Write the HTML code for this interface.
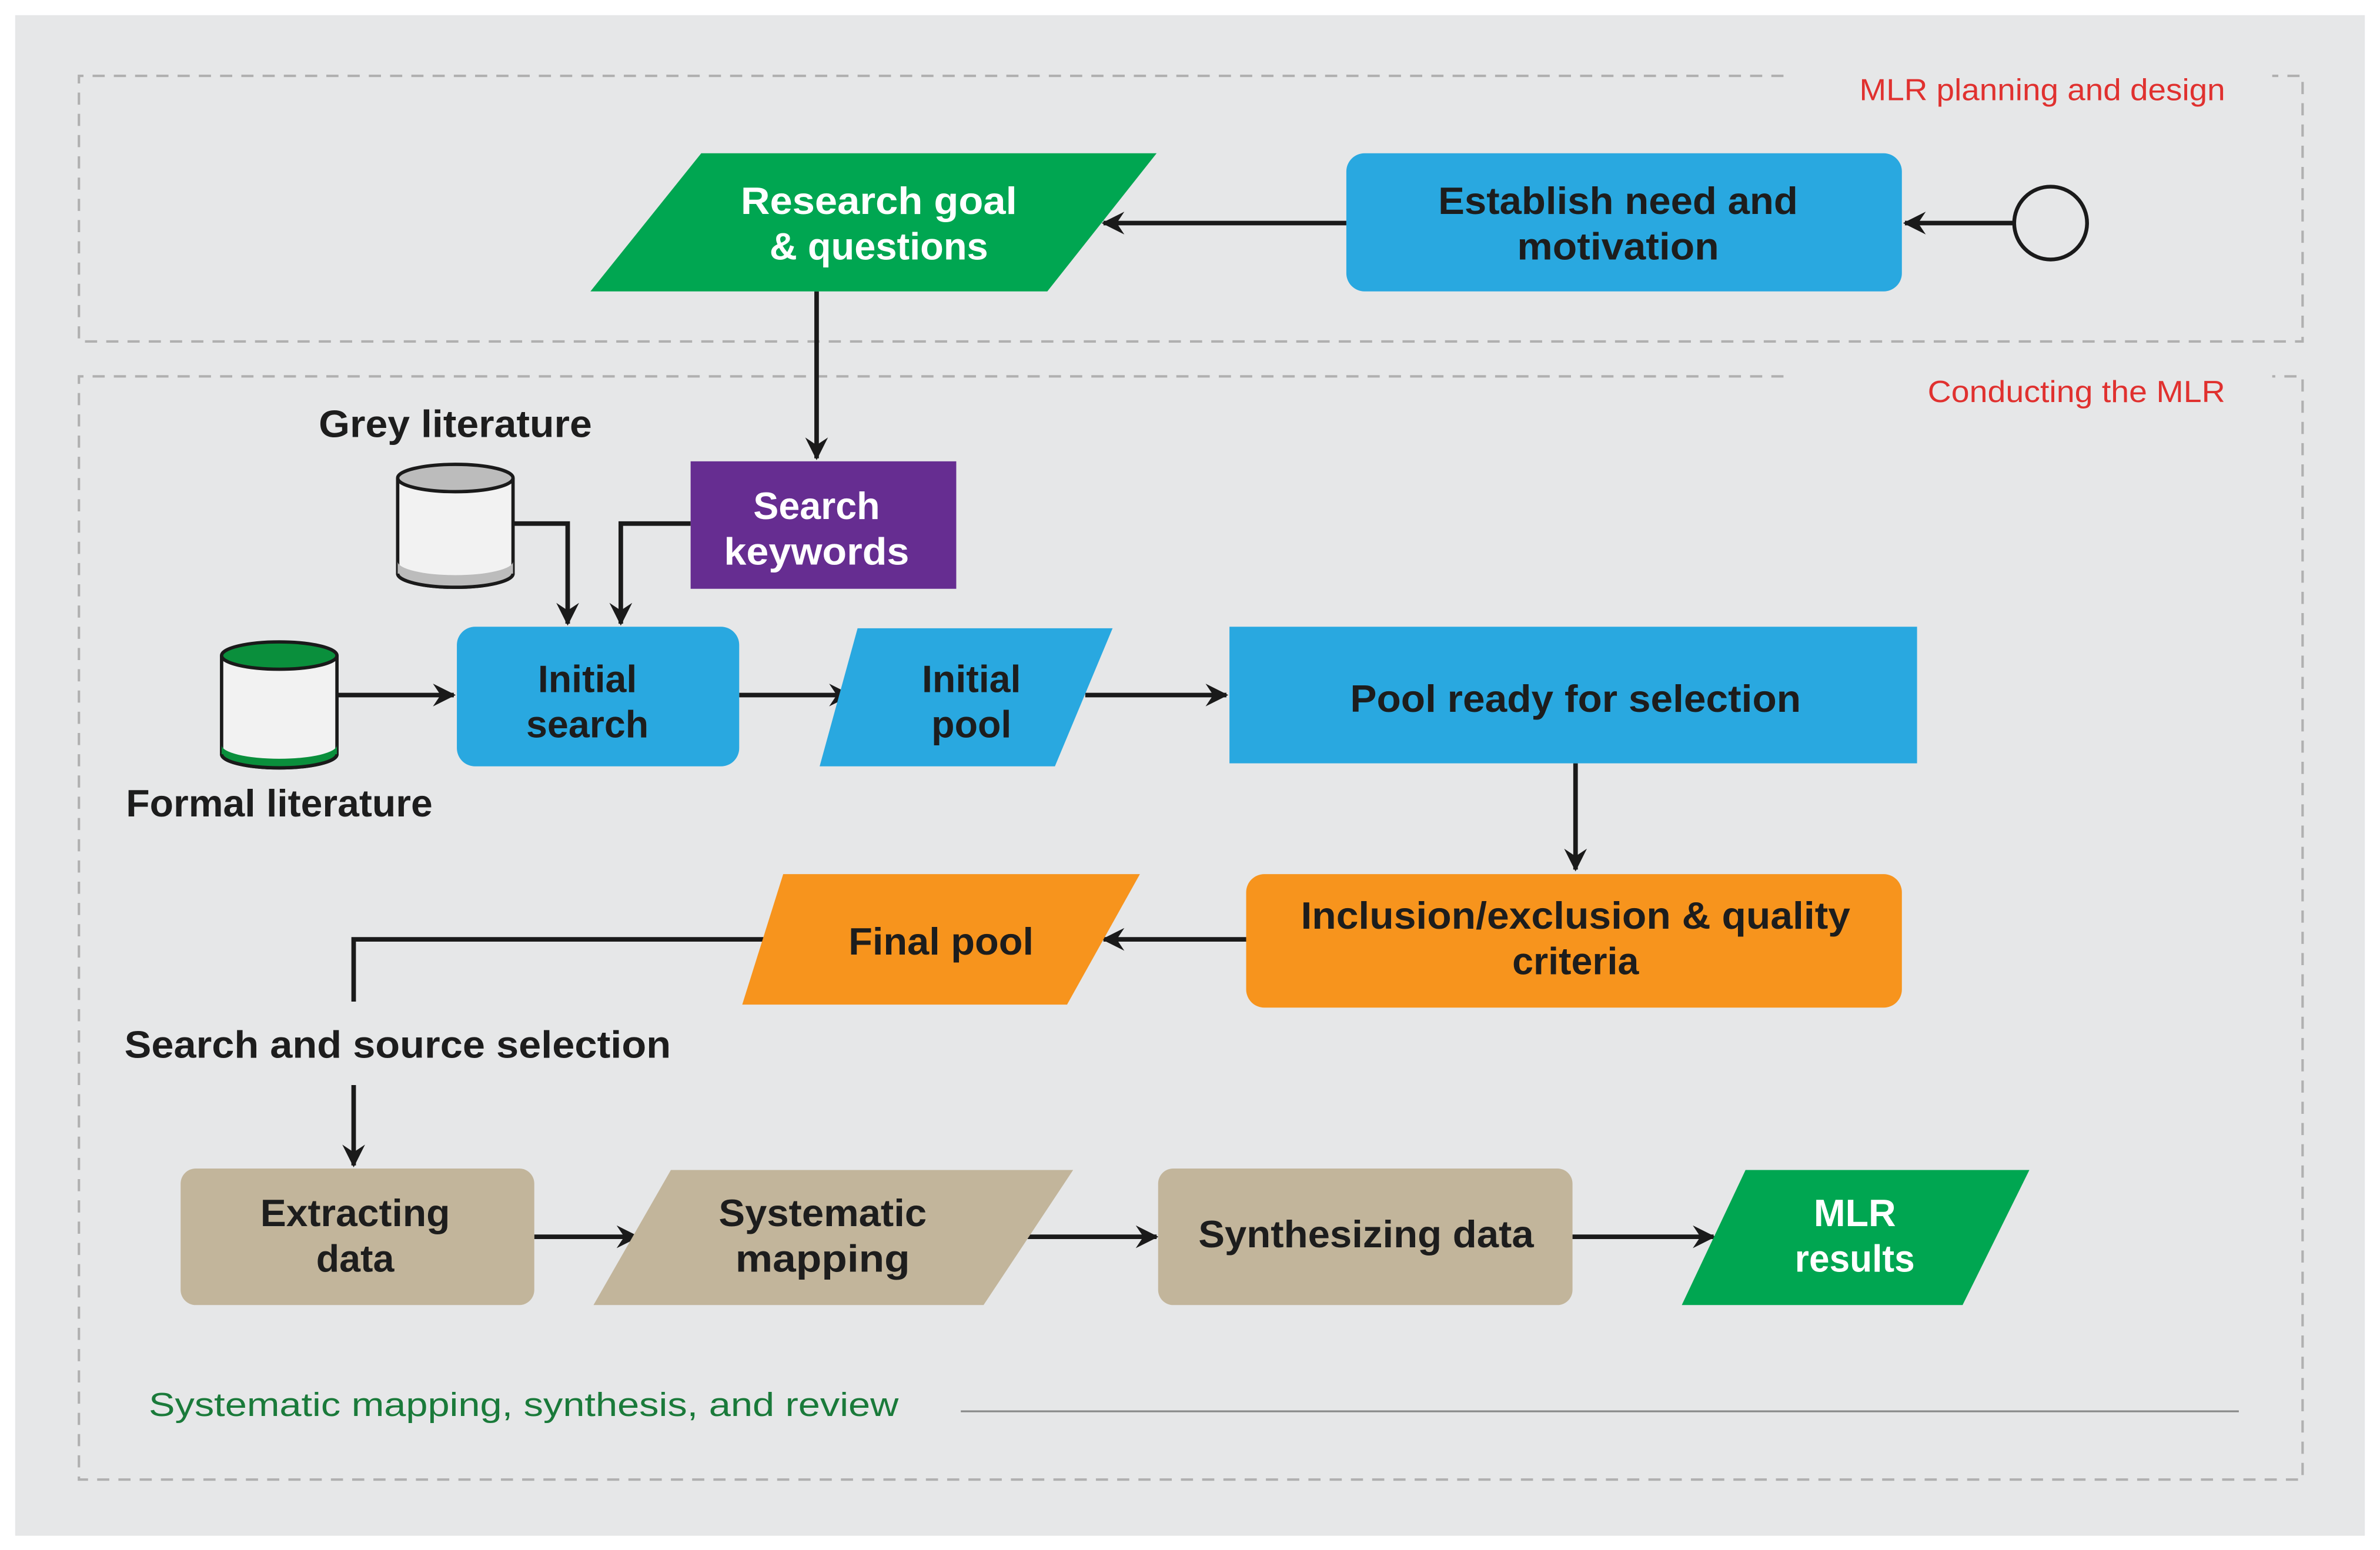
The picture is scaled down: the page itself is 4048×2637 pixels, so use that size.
<!DOCTYPE html>
<html><head><meta charset="utf-8"><style>html,body{margin:0;padding:0;background:#fff}svg{display:block}</style></head>
<body>
<svg width="4048" height="2637" viewBox="0 0 1568 1021.4" preserveAspectRatio="none" xmlns="http://www.w3.org/2000/svg" font-family="Liberation Sans, DejaVu Sans, sans-serif">
<defs>
<marker id="a" viewBox="0 0 12 12" refX="11" refY="6" markerWidth="5" markerHeight="5" orient="auto" markerUnits="strokeWidth">
<path d="M0,0 L12,6 L0,12 L4,6 Z" fill="#1a1a1a"/>
</marker>
</defs>
<rect x="0" y="0" width="1568" height="1021.4" fill="#fff"/>
<rect x="10" y="10" width="1548" height="1002" fill="#e6e7e8"/>
<g fill="none" stroke="#b0b0b0" stroke-width="1.6" stroke-dasharray="8,6">
<path d="M1175,50 H52 V225 H1517 V50 H1497"/>
<path d="M1175,248 H52 V975 H1517 V248 H1497"/>
</g>
<g font-size="20" fill="#e0312f">
<text x="1225" y="66" textLength="241" lengthAdjust="spacingAndGlyphs">MLR planning and design</text>
<text x="1270" y="265" textLength="196" lengthAdjust="spacingAndGlyphs">Conducting the MLR</text>
</g>
<g stroke="#1a1a1a" stroke-width="3" fill="none" marker-end="url(#a)">
<line x1="1327" y1="147" x2="1255" y2="147"/>
<line x1="887" y1="147" x2="727" y2="147"/>
<line x1="538" y1="192" x2="538" y2="302"/>
<path d="M338,345 H374 V411"/>
<path d="M455,345 H409 V411"/>
<line x1="222" y1="458" x2="299" y2="458"/>
<line x1="487" y1="458" x2="560" y2="458"/>
<line x1="715" y1="458" x2="808" y2="458"/>
<line x1="1038" y1="503" x2="1038" y2="573"/>
<line x1="821" y1="619" x2="727" y2="619"/>
<line x1="233" y1="715" x2="233" y2="768"/>
<line x1="352" y1="815" x2="420" y2="815"/>
<line x1="677" y1="815" x2="762" y2="815"/>
<line x1="1036" y1="815" x2="1129" y2="815"/>
</g>
<path d="M516,619 H233 V660" stroke="#1a1a1a" stroke-width="3" fill="none"/>
<circle cx="1351" cy="147" r="24" fill="none" stroke="#1a1a1a" stroke-width="2.5"/>
<polygon points="462,101 762,101 690,192 389,192" fill="#00a651"/>
<rect x="887" y="101" width="366" height="91" rx="12" fill="#29a8e0"/>
<rect x="455" y="304" width="175" height="84" fill="#662d91"/>
<rect x="301" y="413" width="186" height="92" rx="12" fill="#29a8e0"/>
<polygon points="565,414 733,414 695,505 540,505" fill="#29a8e0"/>
<rect x="810" y="413" width="453" height="90" fill="#29a8e0"/>
<rect x="821" y="576" width="432" height="88" rx="12" fill="#f7941d"/>
<polygon points="516,576 751,576 703,662 489,662" fill="#f7941d"/>
<rect x="119" y="770" width="233" height="90" rx="10" fill="#c2b59b"/>
<polygon points="442,771 707,771 648,860 391,860" fill="#c2b59b"/>
<rect x="763" y="770" width="273" height="90" rx="10" fill="#c2b59b"/>
<polygon points="1150,771 1337,771 1293,860 1108,860" fill="#00a651"/>
<g stroke="#1a1a1a" stroke-width="2.2">
<path d="M262,315 V378 A38,9 0 0 0 338,378 V315" fill="#f2f2f2"/>
<path d="M262,378 A38,9 0 0 0 338,378 V370 A38,9 0 0 1 262,370 Z" fill="#bcbcbc" stroke="none"/>
<path d="M262,378 A38,9 0 0 0 338,378" fill="none"/>
<ellipse cx="300" cy="315" rx="38" ry="9" fill="#bcbcbc"/>
<path d="M146,432 V497 A38,9 0 0 0 222,497 V432" fill="#f2f2f2"/>
<path d="M146,497 A38,9 0 0 0 222,497 V491 A38,9 0 0 1 146,491 Z" fill="#0a8f3c" stroke="none"/>
<path d="M146,497 A38,9 0 0 0 222,497" fill="none"/>
<ellipse cx="184" cy="432" rx="38" ry="9" fill="#0a8f3c"/>
</g>
<g font-size="25" font-weight="bold" text-anchor="middle" fill="#1d1d1d" lengthAdjust="spacingAndGlyphs">
<text x="579" y="141" fill="#fff" textLength="182" lengthAdjust="spacingAndGlyphs">Research goal</text>
<text x="579" y="171" fill="#fff" textLength="144" lengthAdjust="spacingAndGlyphs">&amp; questions</text>
<text x="1066" y="141" textLength="237" lengthAdjust="spacingAndGlyphs">Establish need and</text>
<text x="1066" y="171" textLength="133" lengthAdjust="spacingAndGlyphs">motivation</text>
<text x="300" y="288" textLength="180" lengthAdjust="spacingAndGlyphs">Grey literature</text>
<text x="538" y="342" fill="#fff">Search</text>
<text x="538" y="372" fill="#fff" textLength="122" lengthAdjust="spacingAndGlyphs">keywords</text>
<text x="387" y="456">Initial</text>
<text x="387" y="486">search</text>
<text x="640" y="456">Initial</text>
<text x="640" y="486">pool</text>
<text x="1038" y="469" textLength="297" lengthAdjust="spacingAndGlyphs">Pool ready for selection</text>
<text x="184" y="538" textLength="202" lengthAdjust="spacingAndGlyphs">Formal literature</text>
<text x="1038" y="612" textLength="362" lengthAdjust="spacingAndGlyphs">Inclusion/exclusion &amp; quality</text>
<text x="1038" y="642">criteria</text>
<text x="620" y="629" textLength="122" lengthAdjust="spacingAndGlyphs">Final pool</text>
<text x="262" y="697" textLength="360" lengthAdjust="spacingAndGlyphs">Search and source selection</text>
<text x="234" y="808" textLength="125" lengthAdjust="spacingAndGlyphs">Extracting</text>
<text x="234" y="838">data</text>
<text x="542" y="808" textLength="137" lengthAdjust="spacingAndGlyphs">Systematic</text>
<text x="542" y="838" textLength="115" lengthAdjust="spacingAndGlyphs">mapping</text>
<text x="900" y="822" textLength="221" lengthAdjust="spacingAndGlyphs">Synthesizing data</text>
<text x="1222" y="808" fill="#fff">MLR</text>
<text x="1222" y="838" fill="#fff" textLength="79" lengthAdjust="spacingAndGlyphs">results</text>
</g>
<text x="98" y="933" font-size="22" fill="#1a7a3a" textLength="494" lengthAdjust="spacingAndGlyphs">Systematic mapping, synthesis, and review</text>
<line x1="633" y1="930" x2="1475" y2="930" stroke="#888" stroke-width="1.2"/>
</svg>
</body></html>
